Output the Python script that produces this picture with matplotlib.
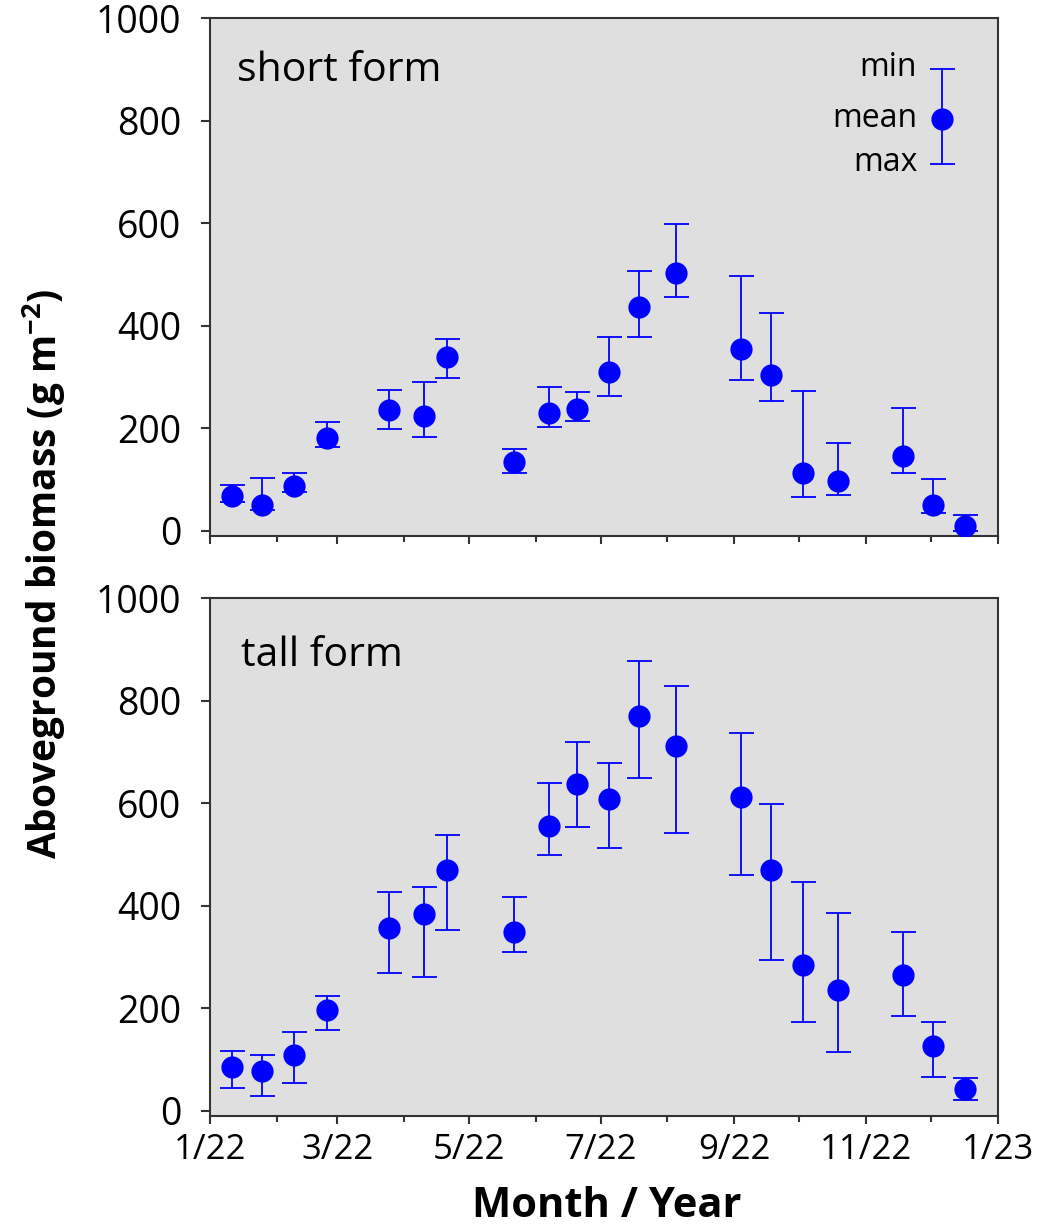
import datetime as dt
import matplotlib
matplotlib.use("Agg")
import matplotlib.pyplot as plt
import matplotlib.dates as mdates
from matplotlib.ticker import FuncFormatter

# Sampling dates (2022)
sample_dates = [
    "2022-01-11", "2022-01-25", "2022-02-09", "2022-02-24", "2022-03-25",
    "2022-04-10", "2022-04-21", "2022-05-22", "2022-06-07", "2022-06-20",
    "2022-07-05", "2022-07-19", "2022-08-05", "2022-09-04", "2022-09-18",
    "2022-10-03", "2022-10-19", "2022-11-18", "2022-12-02", "2022-12-17",
]

# Short form: mean, lower and upper range (g m-2)
short_mean = [68, 50, 86, 180, 235, 224, 339, 134, 229, 238,
              310, 437, 502, 354, 303, 112, 96, 146, 49, 9]
short_low = [55, 40, 75, 164, 199, 183, 298, 112, 203, 214,
             263, 377, 455, 293, 253, 65, 70, 113, 35, 0]
short_high = [89, 102, 113, 212, 274, 289, 373, 159, 280, 270,
              378, 507, 598, 496, 424, 272, 171, 240, 100, 31]

# Tall form: mean, lower and upper range (g m-2)
tall_mean = [86, 77, 108, 197, 357, 383, 470, 348, 556, 638,
             609, 771, 711, 613, 470, 285, 236, 264, 126, 42]
tall_low = [44, 28, 54, 157, 268, 261, 352, 309, 498, 554,
            513, 649, 542, 459, 293, 172, 114, 184, 66, 21]
tall_high = [116, 108, 153, 223, 426, 437, 537, 417, 640, 720,
             679, 878, 829, 737, 598, 447, 385, 348, 173, 63]

panel_titles = ["short form", "tall form"]
y_ticks = [0, 200, 400, 600, 800, 1000]
key_labels = ["min", "mean", "max"]

BLUE = "#0000ff"
FACE = "#dfdfdf"
SPINE = "#333333"
FONT = ["Open Sans", "DejaVu Sans"]

plt.rcParams["font.family"] = FONT
plt.rcParams["mathtext.fontset"] = "custom"
plt.rcParams["mathtext.rm"] = "Open Sans"
plt.rcParams["mathtext.bf"] = "Open Sans:bold"

dates = [dt.datetime.strptime(d, "%Y-%m-%d") for d in sample_dates]

fig = plt.figure(figsize=(10.64, 12.25), dpi=100)
ax_top = fig.add_axes([0.1974, 0.5627, 0.7401, 0.4226])
ax_bot = fig.add_axes([0.1974, 0.0892, 0.7401, 0.4224])


def month_label(x, pos=None):
    d = mdates.num2date(x)
    return f"{d.month}/{d.year % 100:02d}"


def draw_panel(ax, mean, low, high, title, title_xy, show_xlabels):
    ax.set_facecolor(FACE)
    lower = [m - lo for m, lo in zip(mean, low)]
    upper = [hi - m for m, hi in zip(mean, high)]
    ax.errorbar(dates, mean, yerr=[lower, upper], fmt="none",
                ecolor=BLUE, elinewidth=1.3, capsize=9, capthick=1.3, zorder=2)
    ax.plot(dates, mean, linestyle="none", marker="o", markersize=16,
            color=BLUE, markeredgewidth=0, zorder=3)

    ax.set_xlim(dt.datetime(2022, 1, 1), dt.datetime(2023, 1, 1))
    ax.set_ylim(-10, 1000)
    ax.set_yticks(y_ticks)
    ax.xaxis.set_major_locator(mdates.MonthLocator(bymonth=[1, 3, 5, 7, 9, 11]))
    ax.xaxis.set_minor_locator(mdates.MonthLocator(bymonth=[2, 4, 6, 8, 10, 12]))
    ax.xaxis.set_major_formatter(FuncFormatter(month_label))

    for s in ax.spines.values():
        s.set_color(SPINE)
        s.set_linewidth(1.5)
    ax.tick_params(axis="y", which="major", direction="out", length=6.5,
                   width=1.5, color=SPINE, labelsize=27, pad=14)
    ax.tick_params(axis="x", which="major", direction="out", length=5.5,
                   width=1.5, color=SPINE, labelsize=25, pad=7,
                   labelbottom=show_xlabels)
    ax.tick_params(axis="x", which="minor", direction="out", length=4.5,
                   width=1.5, color=SPINE)

    ax.text(title_xy[0], title_xy[1], title, transform=ax.transAxes,
            fontsize=29.5, ha="left", va="baseline")


draw_panel(ax_top, short_mean, short_low, short_high, panel_titles[0],
           (0.034, 0.878), False)
draw_panel(ax_bot, tall_mean, tall_low, tall_high, panel_titles[1],
           (0.039, 0.870), True)

# Key explaining the symbols
kx = 0.9295
k_top, k_mid, k_bot = 0.901, 0.8043, 0.7177
tr = ax_top.transAxes
ax_top.plot([kx, kx], [k_top, k_bot], transform=tr, color=BLUE, lw=1.3, zorder=4)
ax_top.plot([kx, kx], [k_top, k_bot], transform=tr, linestyle="none", marker="_",
            markersize=18, markeredgewidth=1.3, color=BLUE, zorder=4)
ax_top.plot([kx], [k_mid], transform=tr, linestyle="none", marker="o",
            markersize=16, markeredgewidth=0, color=BLUE, zorder=5)
for lab, yy in zip(key_labels, [0.904, 0.806, 0.720]):
    ax_top.text(0.898, yy, lab, transform=tr, fontsize=23, ha="right",
                va="center")

fig.text(0.042, 0.532, r"Aboveground biomass (g m$^{\mathbf{-2}}$)",
         rotation=90, ha="center", va="center", fontsize=28,
         fontweight="bold")
fig.text(0.5705, 0.0065, "Month / Year", ha="center", va="baseline",
         fontsize=30, fontweight="bold")

fig.savefig("out.png", dpi=100)
